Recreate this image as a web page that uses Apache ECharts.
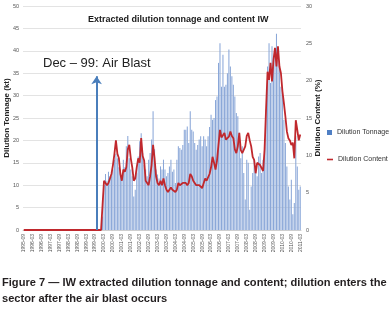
<!DOCTYPE html>
<html>
<head>
<meta charset="utf-8">
<script src="https://cdn.jsdelivr.net/npm/echarts@6/dist/echarts.min.js"></script>
<style>
html, body { margin: 0; padding: 0; background: #fff; }
#container { width: 391px; height: 316px; }
</style>
</head>
<body>
<div id="container"></div>
<script>
// 月度数据, 1995-09 起
var startYear = 1995;
var startMonth = 9;

// Dilution Tonnage (kt)
var tonnage = [
    0, 0, 0, 0, 0, 0, 0, 0, 0, 0, 0, 0, 0, 0, 0, 0, 0, 0, 0, 0,
    0, 0, 0, 0, 0, 0, 0, 0, 0, 0, 0, 0, 0, 0, 0, 0, 0, 0, 0, 0,
    0, 0, 0, 0, 0, 0, 0, 0, 0, 0, 0, 0, 0,
    3, 10, 12.5, 11, 13, 12, 12, 13.5, 15.7, 17,
    16, 14, 13.5, 12, 15.7, 14, 18.7, 21, 16, 13.5,
    12, 7.5, 9, 12.8, 16.4, 19.8, 21.6, 17.2, 14.5, 13.5,
    12, 15.7, 17.2, 20.2, 26.5, 18, 13.5, 12.4, 11.5, 14.2,
    13.5, 15.7, 13.5, 12, 12.7, 14.2, 15.7, 13, 13.5, 10.5,
    15.7, 18.7, 18.3, 17.9, 19, 22.4, 22.4, 23.1, 19.4, 26.5,
    22.4, 22, 19.4, 17.9, 19, 20.2, 20.9,
    18.7, 20.9, 20.2, 18.7, 20.9, 23, 25.7, 24.6, 25, 29,
    29.8, 37.3, 41.7, 32, 39.1, 32, 32.4, 35, 40.3, 36.5,
    34.3, 32.4, 29.8, 26.1, 25.4, 21.7, 16, 18.7, 12.7, 6.8,
    15.7, 15, 4.5, 9.7, 12.7, 15.7, 14.2, 12, 16.4, 17.2,
    12.7, 15.7, 20, 26.9, 36.5, 41.7, 32.8, 41, 36.5, 39,
    43.8, 38, 36.5, 32, 30.6, 24.6, 19.4, 14.2, 9.7, 6.8,
    11.2, 3.5, 6, 20.9, 14.2, 9, 9.7
];

// Dilution Content (%)
var content = [
    0, 0, 0, 0, 0, 0, 0, 0, 0, 0, 0, 0, 0, 0, 0, 0, 0, 0, 0, 0,
    0, 0, 0, 0, 0, 0, 0, 0, 0, 0, 0, 0, 0, 0, 0, 0, 0, 0, 0, 0,
    0, 0, 0, 0, 0, 0, 0, 0, 0, 0, 0, 0, 0,
    3.3, 6.6, 6.6, 6.0, 6.3, 6.3, 7.5, 8.7, 10.2, 12.0,
    10.2, 9.6, 7.5, 6.6, 8.1, 7.8, 8.4, 10.8, 11.4, 9.6,
    8.4, 6.6, 6.9, 8.4, 9.6, 9.0, 12.3, 9.9, 9.3, 6.6,
    6.6, 6.0, 7.2, 8.7, 11.4, 9.6, 7.2, 6.3, 6.0, 6.6,
    6.0, 6.9, 6.0, 5.4, 5.1, 5.4, 5.7, 5.4, 5.4, 5.1,
    5.4, 6.3, 6.0, 6.0, 6.3, 6.3, 6.3, 6.0, 6.3, 7.5,
    7.2, 6.6, 6.3, 6.0, 6.0, 6.0, 6.0,
    5.6, 5.8, 6.9, 6.6, 6.5, 7.5, 8.4, 9.8, 9.0, 8.1,
    9.3, 11.4, 13.4, 12.4, 12.7, 13.0, 12.1, 12.3, 12.5, 13.2,
    12.6, 12.3, 10.8, 10.3, 11.2, 13.0, 10.7, 10.3, 10.5, 11.2,
    12.6, 13.0, 12.0, 11.2, 9.8, 9.4, 7.6, 9.0, 9.2, 8.7,
    8.3, 7.9, 10.8, 16.2, 21.2, 20.1, 22.4, 19.9, 22.8, 24.4,
    21.9, 24.6, 21.9, 21.0, 18.6, 17.0, 15.2, 13.2, 12.3, 12.0,
    11.4, 11.7, 9.6, 14.7, 13.4, 12.0, 12.8
];

var months = [];
for (var i = 0; i < tonnage.length; i++) {
    var m = startMonth - 1 + i;
    var y = startYear + Math.floor(m / 12);
    var mm = (m % 12) + 1;
    months.push(y + "-" + (mm < 10 ? "0" + mm : mm));
}

var blastMonth = "1999-10"; // 箭头位置
var blastTop = 34.3;

var chart = echarts.init(document.getElementById("container"));
var axisFont = "'Liberation Sans', Arial, sans-serif";
var legendText = { fontSize: 7, color: "#333", fontFamily: axisFont };

chart.setOption({
    backgroundColor: "#ffffff",
    animation: false,
    title: {
        text: "Extracted dilution tonnage and content IW",
        left: 83,
        top: 10,
        textStyle: {
            fontSize: 9,
            fontWeight: "bold",
            color: "#1a1a1a",
            fontFamily: axisFont,
        },
    },
    // 两个图例, 各自的图标大小
    legend: [{
            left: 327,
            top: 129,
            padding: 0,
            itemWidth: 5,
            itemHeight: 5,
            itemGap: 2,
            textStyle: legendText,
            data: [{ name: "Dilution Tonnage", icon: "rect", itemStyle: { color: "#4f7fc4" } }],
        },
        {
            left: 327,
            top: 156,
            padding: 0,
            itemWidth: 6,
            itemHeight: 1.6,
            itemGap: 2,
            textStyle: legendText,
            data: [{ name: "Dilution Content", icon: "rect" }],
        },
    ],
    grid: {
        left: 23,
        right: 90,
        top: 6,
        height: 224,
        outerBoundsMode: "none",
        containLabel: false,
    },
    xAxis: {
        type: "category",
        data: months,
        axisLine: { lineStyle: { color: "#cfcfcf" } },
        axisTick: { show: false },
        axisLabel: {
            interval: 5,
            rotate: 90,
            fontSize: 5,
            color: "#555",
            margin: 4,
            fontFamily: axisFont,
        },
    },
    yAxis: [{
            type: "value",
            min: 0,
            max: 50,
            interval: 5,
            name: "Dilution Tonnage (kt)",
            nameLocation: "middle",
            nameGap: 12,
            nameMoveOverlap: false,
            nameTextStyle: { fontSize: 8, fontWeight: "bold", color: "#222", fontFamily: axisFont },
            axisLabel: { fontSize: 5.5, color: "#555", margin: 4, fontFamily: axisFont },
            splitLine: { lineStyle: { color: "#dcdcdc", width: 0.8 } },
        },
        {
            type: "value",
            min: 0,
            max: 30,
            interval: 5,
            name: "Dilution Content (%)",
            nameLocation: "middle",
            nameGap: 13,
            nameRotate: 90,
            nameMoveOverlap: false,
            nameTextStyle: { fontSize: 8, fontWeight: "bold", color: "#222", fontFamily: axisFont },
            axisLabel: { fontSize: 5.5, color: "#555", margin: 5, fontFamily: axisFont },
            splitLine: { show: false },
        },
    ],
    graphic: [{
            type: "text",
            left: 43,
            top: 57,
            style: {
                text: "Dec – 99: Air Blast",
                fontSize: 13,
                fill: "#222",
                fontFamily: axisFont,
            },
        },
        {
            type: "text",
            x: 2,
            y: 275,
            scaleX: 0.965,
            style: {
                text: "Figure 7 — IW extracted dilution tonnage and content; dilution enters the\nsector after the air blast occurs",
                fontSize: 11.5,
                lineHeight: 16,
                fontWeight: "bold",
                fill: "#231f20",
                fontFamily: "'Liberation Sans', Arial, sans-serif",
            },
        },
    ],
    series: [{
            name: "Dilution Tonnage",
            type: "bar",
            data: tonnage,
            barCategoryGap: "30%",
            itemStyle: { color: "#8aa7d8" },
            markLine: {
                silent: true,
                symbol: ["none", "arrow"],
                symbolSize: 8,
                label: { show: false },
                lineStyle: { color: "#4a7ebb", width: 2, type: "solid" },
                data: [
                    [{ coord: [blastMonth, 0] }, { coord: [blastMonth, blastTop] }],
                ],
            },
        },
        {
            name: "Dilution Content",
            type: "line",
            yAxisIndex: 1,
            data: content,
            symbol: "none",
            lineStyle: { color: "#c0282d", width: 1.8 },
            itemStyle: { color: "#c0282d" },
        },
    ],
});
</script>
</body>
</html>
